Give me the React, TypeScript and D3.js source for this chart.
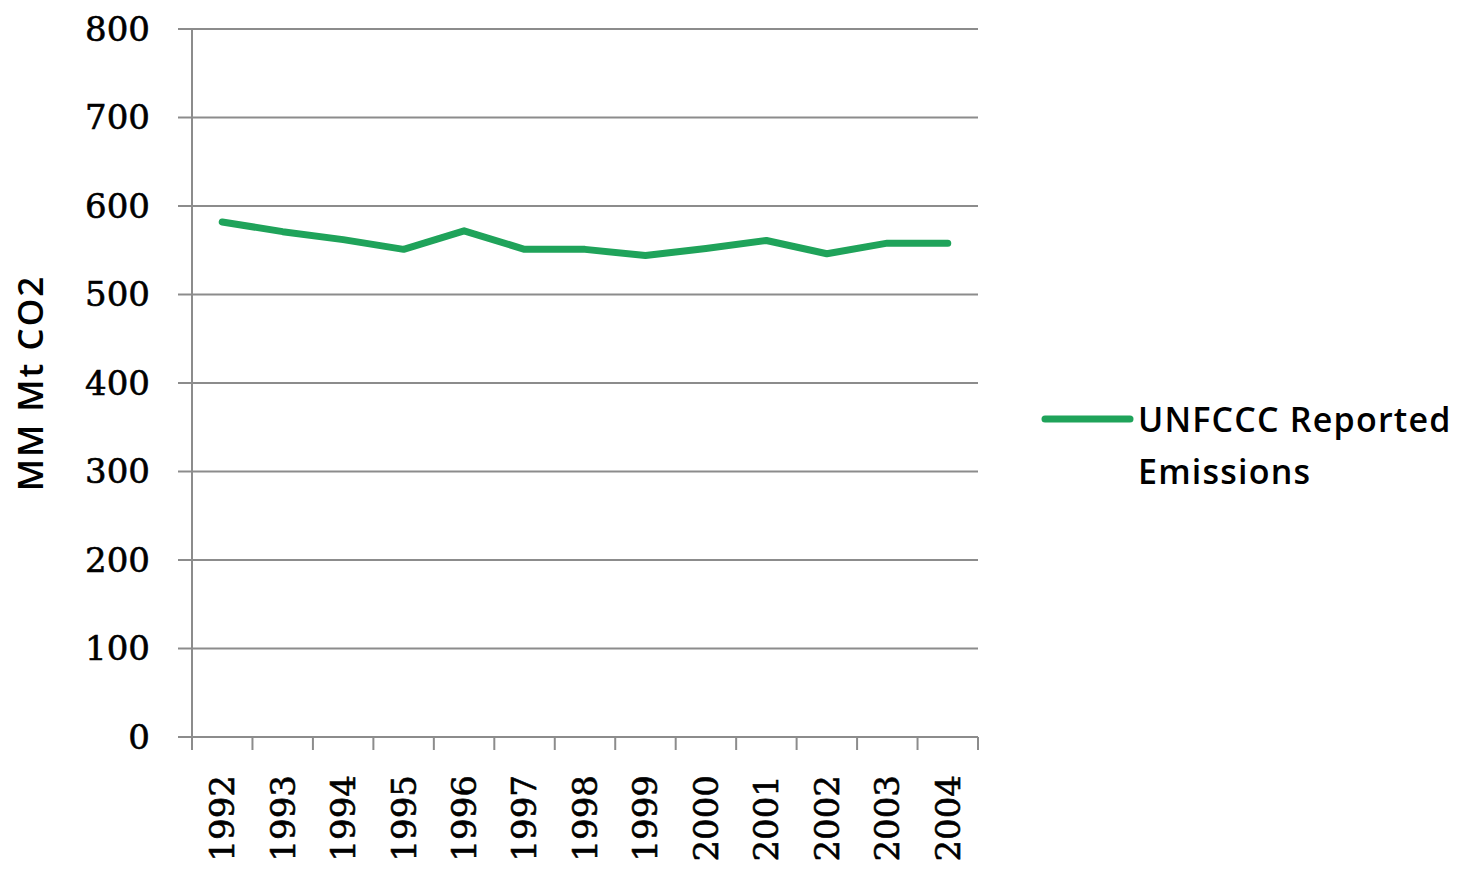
import React from "react";
import * as d3 from "d3";

// chart data
const years = ["1992", "1993", "1994", "1995", "1996", "1997", "1998", "1999", "2000", "2001", "2002", "2003", "2004"];
const emissions = [582, 571, 562, 551, 572, 551, 551, 544, 552, 561, 546, 558, 558];
const yTicks = [0, 100, 200, 300, 400, 500, 600, 700, 800];
const seriesName = ["UNFCCC Reported", "Emissions"];
const yTitle = "MM Mt CO2";

const width = 1476;
const height = 870;
const margin = { top: 29, right: 498, bottom: 133, left: 192 };
const green = "#1fa35a";
const grid = "#8c8c8c";

const App: React.FC = () => {
  const xScale = d3
    .scaleBand<string>()
    .domain(years)
    .range([margin.left, width - margin.right]);

  const yScale = d3
    .scaleLinear()
    .domain([0, 800])
    .range([height - margin.bottom, margin.top]);

  const lineGenerator = d3
    .line<number>()
    .x((_, i) => (xScale(years[i]) ?? 0) + xScale.bandwidth() / 2)
    .y((d) => yScale(d));

  const x0 = margin.left;
  const x1 = width - margin.right;
  const yBase = yScale(0);

  return (
    <svg
      width={width}
      height={height}
      style={{ position: "absolute", left: 0, top: 0, background: "#fff" }}
    >
      {/* gridlines + y ticks */}
      {yTicks.map((t) => (
        <g key={t}>
          <line x1={x0} x2={x1} y1={yScale(t)} y2={yScale(t)} stroke={grid} strokeWidth={2} />
          <line x1={x0 - 14} x2={x0} y1={yScale(t)} y2={yScale(t)} stroke={grid} strokeWidth={2} />
          <text
            x={150}
            y={yScale(t)}
            dy="0.35em"
            textAnchor="end"
            fontFamily="DejaVu Serif"
            fontSize={34}
            fill="#000"
            stroke="#000"
            strokeWidth={0.6}
          >
            {t}
          </text>
        </g>
      ))}

      {/* y axis line */}
      <line x1={x0} x2={x0} y1={margin.top} y2={yBase} stroke={grid} strokeWidth={2} />

      {/* x ticks at band edges */}
      {years.map((y) => (
        <line
          key={"t" + y}
          x1={xScale(y) ?? 0}
          x2={xScale(y) ?? 0}
          y1={yBase}
          y2={yBase + 13}
          stroke={grid}
          strokeWidth={2}
        />
      ))}
      <line x1={x1} x2={x1} y1={yBase} y2={yBase + 13} stroke={grid} strokeWidth={2} />

      {/* x labels */}
      {years.map((y) => {
        const cx = (xScale(y) ?? 0) + xScale.bandwidth() / 2;
        return (
          <text
            key={"l" + y}
            transform={`translate(${cx},${yBase + 38}) rotate(-90)`}
            dy="0.35em"
            textAnchor="end"
            fontFamily="DejaVu Serif"
            fontSize={34}
            fill="#000"
            stroke="#000"
            strokeWidth={0.6}
          >
            {y}
          </text>
        );
      })}

      {/* y title */}
      <text
        transform={`translate(31,383) rotate(-90)`}
        dy="0.35em"
        textAnchor="middle"
        fontFamily="Open Sans"
        fontWeight={600}
        fontSize={35}
        letterSpacing={2}
        fill="#000"
      >
        {yTitle}
      </text>

      {/* series */}
      <path
        d={lineGenerator(emissions) ?? ""}
        fill="none"
        stroke={green}
        strokeWidth={7}
        strokeLinejoin="round"
        strokeLinecap="round"
      />

      {/* legend */}
      <line x1={1045} x2={1130} y1={419} y2={419} stroke={green} strokeWidth={7} strokeLinecap="round" />
      {seriesName.map((s, i) => (
        <text
          key={s}
          x={1138}
          y={432 + i * 52}
          fontFamily="Open Sans"
          fontWeight={600}
          fontSize={34}
          letterSpacing={1.2}
          fill="#000"
        >
          {s}
        </text>
      ))}
    </svg>
  );
};

export default App;
